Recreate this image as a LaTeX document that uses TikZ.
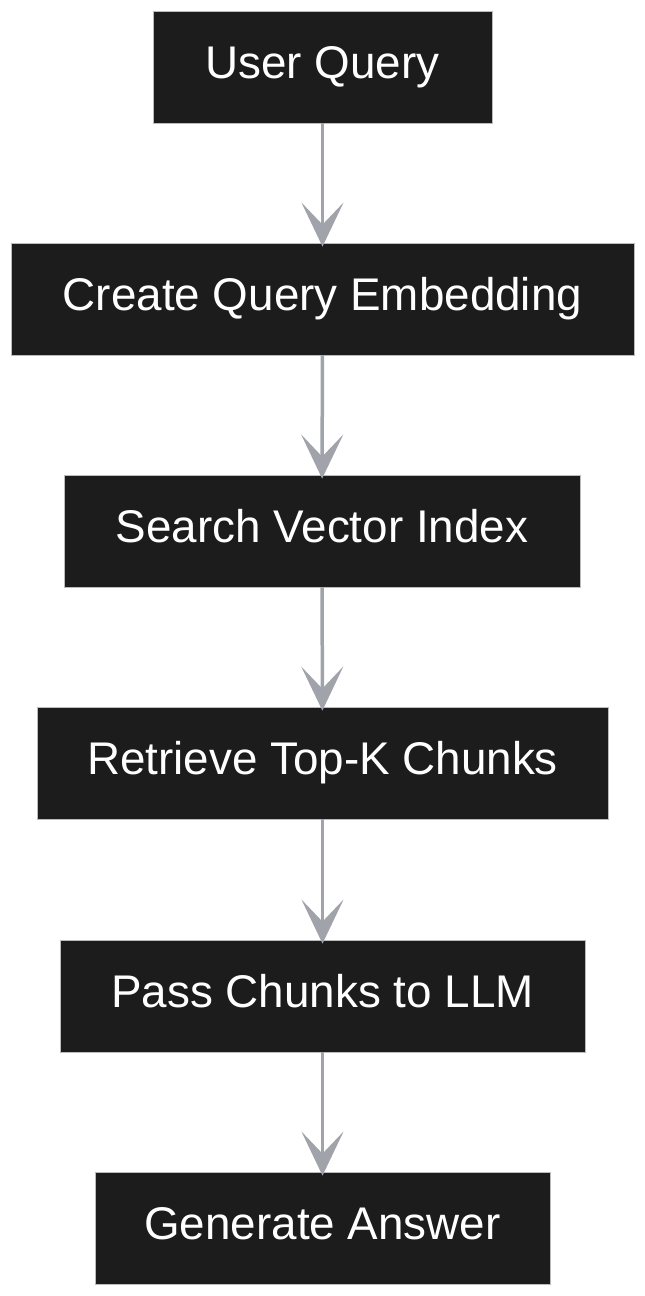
\documentclass[tikz,border=0pt]{standalone}
\usepackage{fontspec}
\setmainfont{Liberation Sans}
\usetikzlibrary{arrows.meta}
\definecolor{boxfill}{HTML}{1C1C1C}
\definecolor{boxedge}{HTML}{BBBBBB}
\definecolor{arrowc}{HTML}{A0A4AA}
\begin{document}
\begin{tikzpicture}[x=1pt,y=-1pt,
  stepbox/.style={rectangle, fill=boxfill, draw=boxedge, line width=0.8pt, text=white,
    minimum height=112pt, inner sep=0pt, text height=32pt, text depth=10pt,
    font=\fontsize{45.8}{50}\selectfont},
  flow/.style={draw=arrowc, line width=3.5pt, shorten >=-4pt,
    -{Stealth[length=44pt, width=42pt, inset=22pt]}}]
\useasboundingbox (0,0) rectangle (645,1296);
\node[stepbox, minimum width=339pt] (q) at (322.5,67) {User Query};
\node[stepbox, minimum width=623pt] (e) at (322.5,299) {Create Query Embedding};
\node[stepbox, minimum width=516pt] (s) at (322,531) {Search Vector Index};
\node[stepbox, minimum width=571pt] (r) at (322.5,763) {Retrieve Top-K Chunks};
\node[stepbox, minimum width=525pt] (p) at (322.5,996) {Pass Chunks to LLM};
\node[stepbox, minimum width=455pt] (g) at (322.5,1228) {Generate Answer};
\draw[flow] (q) -- (e);
\draw[flow] (e) -- (s);
\draw[flow] (s) -- (r);
\draw[flow] (r) -- (p);
\draw[flow] (p) -- (g);
\end{tikzpicture}
\end{document}
